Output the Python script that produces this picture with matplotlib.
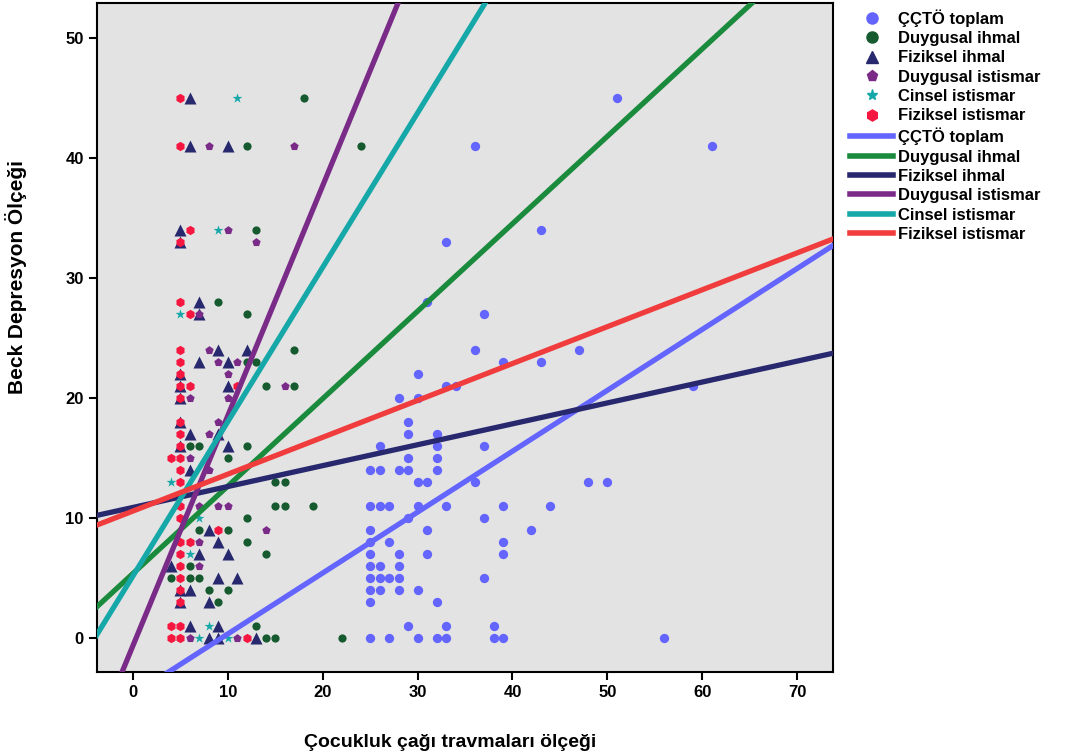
import numpy as np
import matplotlib
matplotlib.use("Agg")
import matplotlib.pyplot as plt
from matplotlib.lines import Line2D

plt.rcParams['font.family'] = ['Liberation Sans', 'DejaVu Sans']
plt.rcParams['font.weight'] = 'bold'

series_names = ["ÇÇTÖ toplam", "Duygusal ihmal", "Fiziksel ihmal",
                "Duygusal istismar", "Cinsel istismar", "Fiziksel istismar"]

# ---- scatter data (x = trauma score, y = Beck score) ----
cctoo_x = [51, 36, 61, 43, 33, 31, 37, 36, 47, 39, 43, 30, 33, 34, 28, 30, 59, 29, 29, 32,
           26, 32, 37, 29, 32, 25, 26, 28, 29, 32, 30, 31, 36, 48, 50, 25, 26, 27, 30, 33,
           39, 44, 29, 37, 25, 31, 42, 25, 27, 39, 25, 28, 31, 39, 25, 26, 28, 25, 26, 27,
           28, 37, 25, 26, 28, 30, 25, 32, 29, 33, 38, 25, 27, 30, 32, 33, 38, 39, 56]
cctoo_y = [45, 41, 41, 34, 33, 28, 27, 24, 24, 23, 23, 22, 21, 21, 20, 20, 21, 18, 17, 17,
           16, 16, 16, 15, 15, 14, 14, 14, 14, 14, 13, 13, 13, 13, 13, 11, 11, 11, 11, 11,
           11, 11, 10, 10, 9, 9, 9, 8, 8, 8, 7, 7, 7, 7, 6, 6, 6, 5, 5, 5,
           5, 5, 4, 4, 4, 4, 3, 3, 1, 1, 1, 0, 0, 0, 0, 0, 0, 0, 0]

dihmal_x = [18, 12, 24, 13, 9, 12, 17, 12, 13, 14, 17, 6, 7, 12, 10, 15, 16, 15, 16, 19,
            12, 7, 10, 12, 14, 6, 4, 6, 7, 8, 10, 9, 13, 14, 15, 22]
dihmal_y = [45, 41, 41, 34, 28, 27, 24, 23, 23, 21, 21, 16, 16, 16, 15, 13, 13, 11, 11, 11,
            10, 9, 9, 8, 7, 6, 5, 5, 5, 4, 4, 3, 1, 0, 0, 0]

fihmal_x = [6, 6, 10, 5, 5, 7, 7, 9, 12, 7, 10, 5, 5, 10, 5, 5, 6, 9, 5, 10,
            6, 8, 9, 7, 10, 4, 9, 11, 5, 6, 5, 8, 6, 9, 8, 9, 13]
fihmal_y = [45, 41, 41, 34, 33, 28, 27, 24, 24, 23, 23, 22, 21, 21, 20, 18, 17, 17, 16, 16,
            14, 9, 8, 7, 7, 6, 5, 5, 4, 4, 3, 3, 1, 1, 0, 0, 0]

distismar_x = [8, 17, 10, 13, 7, 8, 9, 11, 10, 16, 6, 10, 9, 8, 6, 8, 7, 9, 10, 14,
               7, 7, 6, 11]
distismar_y = [41, 41, 34, 33, 27, 24, 23, 23, 22, 21, 20, 20, 18, 17, 15, 14, 11, 11, 11, 9,
               8, 6, 0, 0]

cinsel_x = [11, 9, 5, 4, 7, 6, 8, 7, 10]
cinsel_y = [45, 34, 27, 13, 10, 7, 1, 0, 0]

fistismar_x = [5, 5, 6, 5, 5, 6, 5, 5, 5, 5, 6, 11, 5, 5, 5, 5, 4, 5, 5, 5,
               5, 5, 9, 5, 6, 5, 5, 5, 5, 5, 4, 5, 4, 5, 12]
fistismar_y = [45, 41, 34, 33, 28, 27, 24, 23, 22, 21, 21, 21, 20, 18, 17, 16, 15, 15, 14, 13,
               11, 10, 9, 8, 8, 7, 6, 5, 4, 3, 1, 1, 0, 0, 0]

# ---- linear fit lines (intercept, slope) ----
fit_intercepts = [-4.7, 5.4, 10.9, -0.6, 5.2, 10.6]
fit_slopes = [0.507, 0.728, 0.174, 1.915, 1.285, 0.307]

xs = [cctoo_x, dihmal_x, fihmal_x, distismar_x, cinsel_x, fistismar_x]
ys = [cctoo_y, dihmal_y, fihmal_y, distismar_y, cinsel_y, fistismar_y]

point_colors = ["#6464ff", "#165a30", "#27286e", "#7a2b88", "#16a8a8", "#f5173f"]
line_colors = ["#6464ff", "#1a8a3c", "#27286e", "#7a2b88", "#16a8a8", "#f03c3c"]
markers = ["o", "o", "^", "p", "*", "h"]
msizes = [45, 35, 75, 40, 55, 45]

fig = plt.figure(figsize=(10.82, 7.54), dpi=100)
ax = fig.add_axes([0.0896, 0.1088, 0.6804, 0.8872])
ax.set_facecolor("#e3e3e3")

for x, y, c, m, s in zip(xs, ys, point_colors, markers, msizes):
    ax.scatter(x, y, color=c, marker=m, s=s, linewidths=0, zorder=2)

xgrid = np.array([-10, 90])
for b0, b1, c in zip(fit_intercepts, fit_slopes, line_colors):
    ax.plot(xgrid, b0 + b1 * xgrid, color=c, lw=3.8, solid_capstyle="butt", zorder=3)

ax.set_xlim(-3.8, 73.8)
ax.set_ylim(-2.8, 52.9)
ax.set_xticks(range(0, 71, 10))
ax.set_yticks(range(0, 51, 10))
ax.tick_params(direction="out", length=6, width=1.5, labelsize=12)
for lab in ax.get_xticklabels() + ax.get_yticklabels():
    lab.set_fontweight("bold")
for sp in ax.spines.values():
    sp.set_linewidth(1.5)

ax.set_xlabel("Çocukluk çağı travmaları ölçeği", fontsize=14, fontweight="bold")
ax.xaxis.set_label_coords(0.48, -0.093)
ax.set_ylabel("Beck Depresyon Ölçeği", fontsize=15, fontweight="bold")
ax.yaxis.set_label_coords(-0.095, 0.59)

handles = []
for c, m in zip(point_colors, markers):
    handles.append(Line2D([], [], ls="none", marker=m, color=c, markersize=8))
for c in line_colors:
    handles.append(Line2D([], [], color=c, lw=4))
labels = series_names + series_names
fig.legend(handles, labels, loc="upper left", bbox_to_anchor=(0.777, 1.0), frameon=False,
           prop={"size": 12, "weight": "bold"}, handlelength=2.6, labelspacing=0.26,
           handletextpad=0.3, borderaxespad=0.15)

fig.savefig("out.png", dpi=100)
